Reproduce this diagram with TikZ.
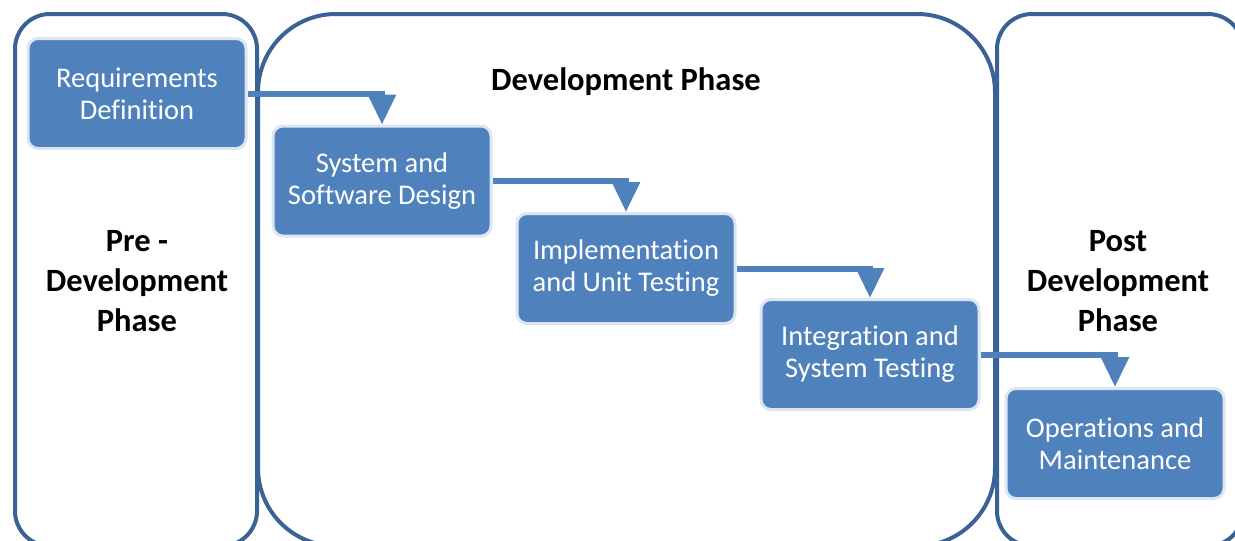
\documentclass[tikz,border=0pt]{standalone}
\usepackage{fontspec}
\setmainfont{Carlito}[Ligatures=NoCommon]
\usetikzlibrary{arrows.meta,positioning}
\definecolor{stepblue}{HTML}{4F81BD}
\definecolor{stepedge}{HTML}{DCE6F2}
\definecolor{phaseline}{HTML}{3A6297}

\tikzset{
  waterfall/.style={
    x=1pt,y=-1pt,
    phase/.style={
        draw=phaseline,
        line width=4pt,
        rounded corners=##1,
    },
    stepbox/.style={
        fill=stepblue,
        draw=stepedge,
        line width=3pt,
        rounded corners=10pt,
        minimum width=218pt,
        minimum height=110pt,
        text=white,
        align=center,
        font=\fontsize{28.5}{32}\selectfont,
    },
    flow/.style={
        draw=stepblue,
        line width=6pt,
        -{Triangle[width=27pt,length=30pt]},
    },
    title/.style={
        font=\fontsize{32.5}{40}\selectfont\bfseries,
        align=center,
    },
  }
}

\begin{document}
\begin{tikzpicture}[waterfall]
    \useasboundingbox (0,0) rectangle (1235,541);
    \draw[phase=35pt] (15,14) rectangle (257,546);
    \draw[phase=78pt] (258,14) rectangle (995,546);
    \draw[phase=35pt] (997,14) rectangle (1243,546);

    \node[title] (pre) at (137,281) {Pre -\\Development\\Phase};
    \node[title] (dev) at (626,82) {Development Phase};
    \node[title] (post) at (1118,281) {Post\\Development\\Phase};

    \node[stepbox] (req) at (137,93.5) {Requirements\\Definition};
    \node[stepbox] (design) at (382,181) {System and\\Software Design};
    \node[stepbox] (impl) at (626,268.5) {Implementation\\and Unit Testing};
    \node[stepbox] (integ) at (870,354.5) {Integration and\\System Testing};
    \node[stepbox] (ops) at (1115,443.5) {Operations and\\Maintenance};

    \draw[flow] (req.east) -| (design.north);
    \draw[flow] (design.east) -| (impl.north);
    \draw[flow] (impl.east) -| (integ.north);
    \draw[flow] (integ.east) -| (ops.north);
\end{tikzpicture}
\end{document}
